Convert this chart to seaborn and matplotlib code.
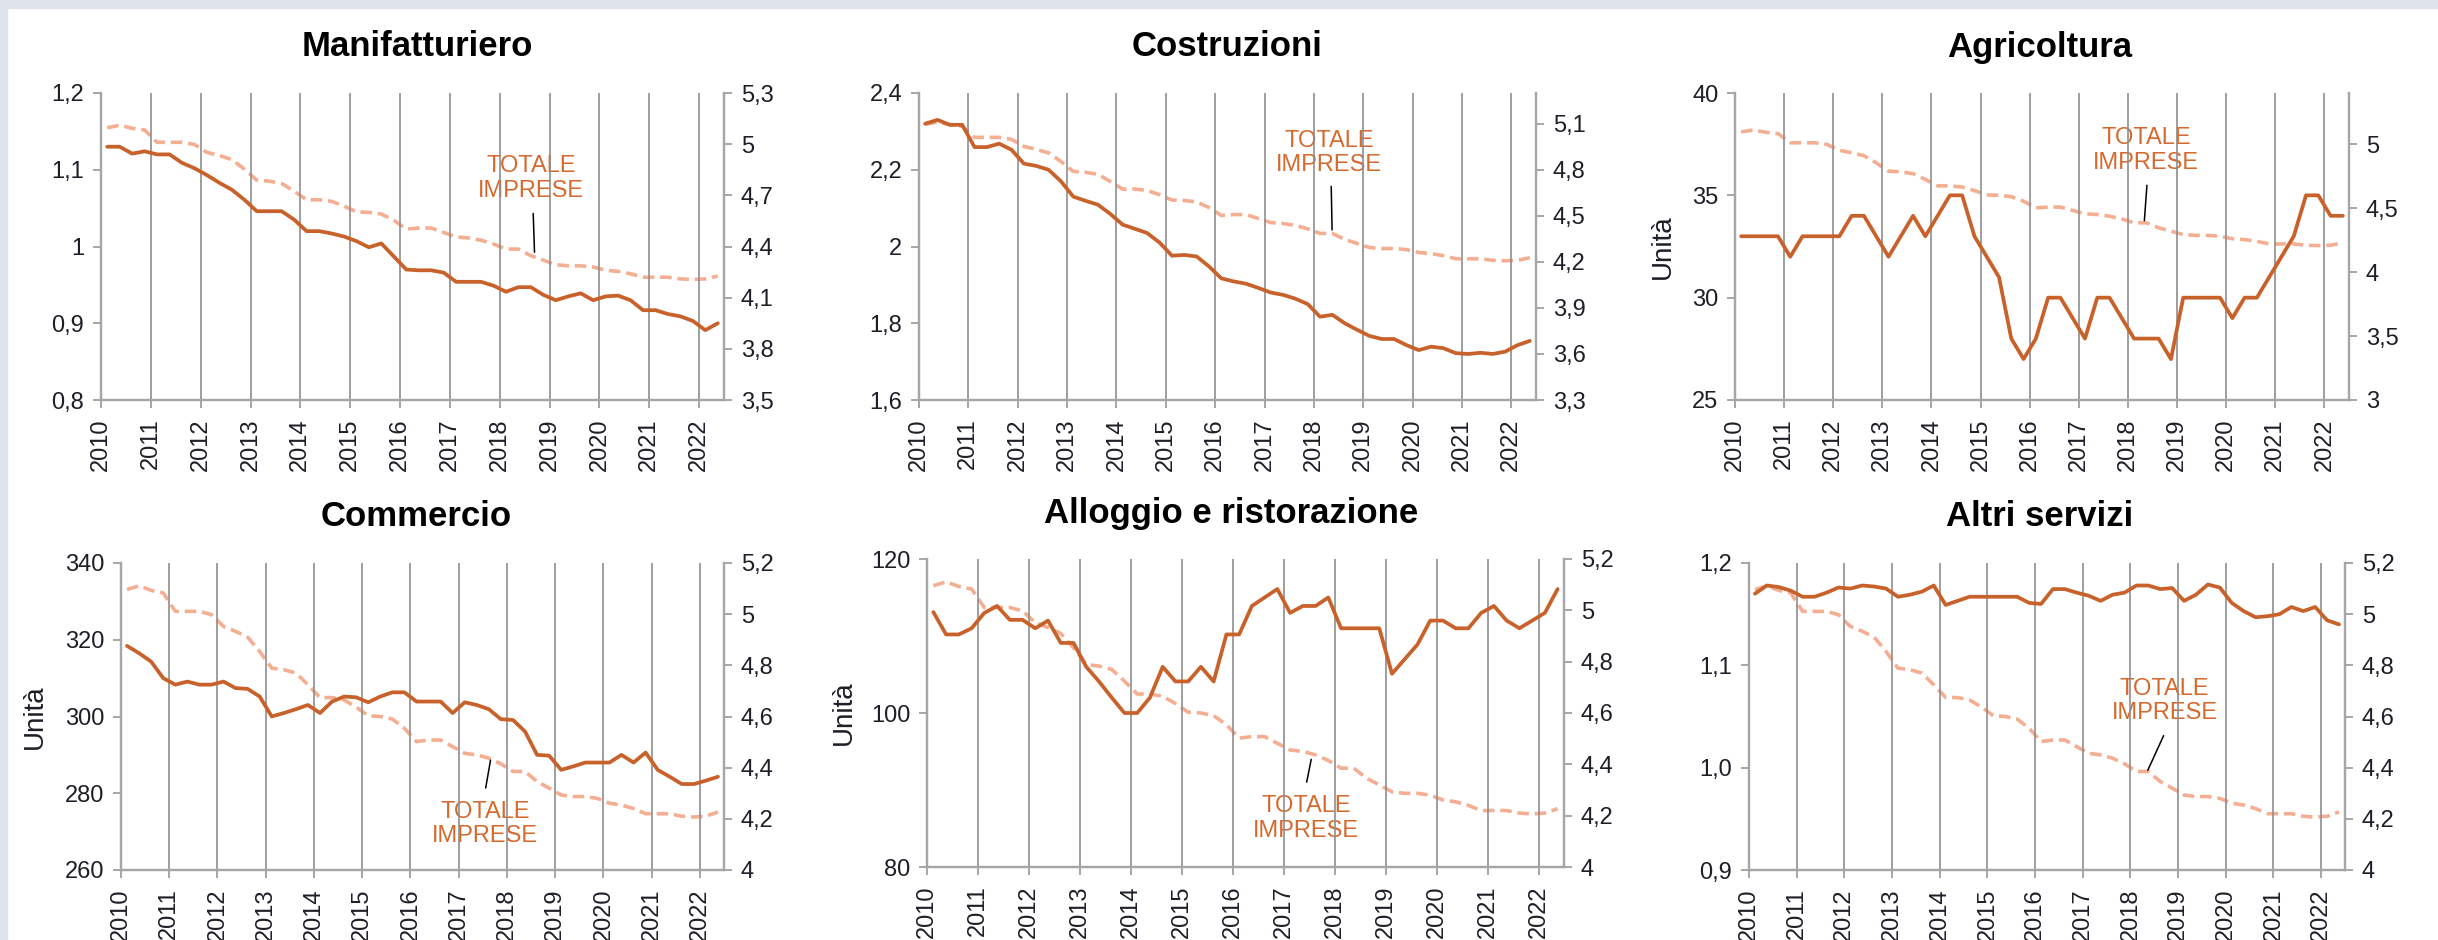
"""Imprese attive per settore (migliaia / unità) e totale imprese, 2010-2022."""

import matplotlib

matplotlib.use("Agg")
import matplotlib.pyplot as plt
import numpy as np
import pandas as pd
import seaborn as sns
from matplotlib.patches import Rectangle
from matplotlib.ticker import FuncFormatter

# quarterly observations, 2010Q1 .. 2022Q2
first_year = 2010
n_quarters = 50
year_ticks = list(range(2010, 2023))

totale_imprese = [5.096, 5.111, 5.093, 5.083, 5.011, 5.011, 5.011, 4.998, 4.952, 4.933,
                  4.91, 4.854, 4.789, 4.783, 4.77, 4.724, 4.674, 4.674, 4.665, 4.637,
                  4.603, 4.60, 4.59, 4.554, 4.502, 4.508, 4.508, 4.482, 4.456, 4.45,
                  4.437, 4.415, 4.385, 4.385, 4.346, 4.32, 4.293, 4.287, 4.287, 4.28,
                  4.261, 4.254, 4.24, 4.22, 4.22, 4.22, 4.21, 4.207, 4.21, 4.227]

manifatturiero = [1.13, 1.13, 1.121, 1.124, 1.12, 1.12, 1.109, 1.102, 1.093, 1.083,
                  1.074, 1.061, 1.046, 1.046, 1.046, 1.035, 1.02, 1.02, 1.017, 1.013,
                  1.007, 0.999, 1.004, 0.987, 0.970, 0.969, 0.969, 0.966, 0.954, 0.954,
                  0.954, 0.949, 0.941, 0.947, 0.947, 0.937, 0.930, 0.935, 0.939, 0.930,
                  0.935, 0.936, 0.930, 0.917, 0.917, 0.912, 0.909, 0.903, 0.891, 0.90]

costruzioni = [2.32, 2.33, 2.317, 2.317, 2.259, 2.259, 2.268, 2.252, 2.216, 2.21,
               2.20, 2.17, 2.13, 2.119, 2.109, 2.085, 2.057, 2.046, 2.035, 2.01,
               1.976, 1.978, 1.974, 1.948, 1.917, 1.909, 1.903, 1.892, 1.88, 1.874,
               1.864, 1.85, 1.817, 1.822, 1.80, 1.783, 1.767, 1.759, 1.759, 1.743,
               1.73, 1.739, 1.735, 1.722, 1.72, 1.723, 1.72, 1.726, 1.743, 1.754]

agricoltura = [33, 33, 33, 33, 32, 33, 33, 33, 33, 34,
               34, 33, 32, 33, 34, 33, 34, 35, 35, 33,
               32, 31, 28, 27, 28, 30, 30, 29, 28, 30,
               30, 29, 28, 28, 28, 27, 30, 30, 30, 30,
               29, 30, 30, 31, 32, 33, 35, 35, 34, 34]

commercio = [318.4, 316.5, 314.3, 310, 308.3, 309.1, 308.3, 308.3, 309.1, 307.4,
             307.2, 305.2, 300, 300.9, 301.9, 303, 300.9, 303.9, 305.2, 305,
             303.7, 305.2, 306.3, 306.3, 303.9, 303.9, 303.9, 300.9, 303.7, 303,
             301.9, 299.3, 299.1, 296.1, 290, 289.8, 286.1, 287, 288, 288,
             288, 290, 288, 290.6, 286.1, 284.3, 282.4, 282.4, 283.3, 284.3]

alloggio = [113.1, 110.2, 110.2, 111, 113, 113.9, 112.1, 112.1, 111, 112,
            109.1, 109.1, 106, 104.1, 102, 100, 100, 102, 106, 104.1,
            104.1, 106, 104.1, 110.2, 110.2, 113.9, 115, 116.1, 113, 113.9,
            113.9, 115, 111, 111, 111, 111, 105.1, 107, 108.9, 112,
            112, 111, 111, 113, 113.9, 112, 111, 112, 113, 116.1]

altri_servizi = [1.170, 1.178, 1.1765, 1.173, 1.167, 1.167, 1.171, 1.176, 1.175, 1.178,
                 1.177, 1.175, 1.167, 1.169, 1.172, 1.178, 1.159, 1.163, 1.167, 1.167,
                 1.167, 1.167, 1.167, 1.161, 1.16, 1.1745, 1.1745, 1.171, 1.168, 1.163,
                 1.169, 1.171, 1.178, 1.178, 1.1745, 1.1755, 1.163, 1.169, 1.179, 1.176,
                 1.161, 1.153, 1.147, 1.148, 1.15, 1.157, 1.153, 1.157, 1.144, 1.14]

SOLID = "#C8622A"
DASHED = "#F4AE92"
LABEL = "#D56A2E"
GRID = "#8E8E8E"
SPINE = "#A6A6A6"
TICK_TXT = "#1E1E28"

W, H = 2438, 940


def comma(fmt):
    return FuncFormatter(lambda v, _: (fmt % v).replace(".", ","))


# title, values, left lim/ticks/fmt, right lim/ticks, pixel box, ylabel, annotation
panels = [
    dict(title="Manifatturiero", values=manifatturiero,
         ylim=(0.8, 1.2), yticks=np.arange(0.8, 1.21, 0.1), yfmt="%g",
         rlim=(3.5, 5.3), rticks=np.arange(3.5, 5.31, 0.3),
         box=(101, 93, 724, 400), title_xy=(417, 47), ylabel=None,
         note=((2018.67, 4.61), (2018.70, 4.35), (2018.63, 4.80))),
    dict(title="Costruzioni", values=costruzioni,
         ylim=(1.6, 2.4), yticks=np.arange(1.6, 2.41, 0.2), yfmt="%g",
         rlim=(3.3, 5.3), rticks=np.arange(3.3, 5.11, 0.3),
         box=(919, 93, 1536, 400), title_xy=(1227, 47), ylabel=None,
         note=((2018.35, 4.71), (2018.37, 4.39), (2018.31, 4.91))),
    dict(title="Agricoltura", values=agricoltura,
         ylim=(25, 40), yticks=np.arange(25, 41, 5), yfmt="%g",
         rlim=(3.0, 5.4), rticks=np.arange(3.0, 5.01, 0.5),
         box=(1735, 93, 2349, 400), title_xy=(2040, 47), ylabel=-0.096,
         note=((2018.39, 4.70), (2018.33, 4.38), (2018.37, 4.95))),
    dict(title="Commercio", values=commercio,
         ylim=(260, 340), yticks=np.arange(260, 341, 20), yfmt="%g",
         rlim=(4.0, 5.2), rticks=np.arange(4.0, 5.21, 0.2),
         box=(121, 563, 724, 870), title_xy=(416, 517), ylabel=-0.121,
         note=((2017.55, 4.31), (2017.67, 4.44), (2017.55, 4.18))),
    dict(title="Alloggio e ristorazione", values=alloggio,
         ylim=(80, 120), yticks=np.arange(80, 121, 20), yfmt="%g",
         rlim=(4.0, 5.2), rticks=np.arange(4.0, 5.21, 0.2),
         box=(927, 559, 1564, 867), title_xy=(1231, 513), ylabel=-0.11,
         note=((2017.44, 4.32), (2017.55, 4.43), (2017.44, 4.19))),
    dict(title="Altri servizi", values=altri_servizi,
         ylim=(0.9, 1.2), yticks=np.arange(0.9, 1.21, 0.1), yfmt="%.1f",
         rlim=(4.0, 5.2), rticks=np.arange(4.0, 5.21, 0.2),
         box=(1749, 563, 2345, 870), title_xy=(2040, 517), ylabel=None,
         note=((2018.72, 4.535), (2018.34, 4.38), (2018.72, 4.66))),
]

sns.set_style("white")
plt.rcParams["font.family"] = ["Liberation Sans", "DejaVu Sans"]

fig = plt.figure(figsize=(W / 100, H / 100), dpi=100)
fig.patch.set_facecolor("white")
fig.patches.append(Rectangle((0, 1 - 8 / H), 1, 8 / H, transform=fig.transFigure,
                             color="#DEE3EC", zorder=0))
fig.patches.append(Rectangle((0, 0), 7 / W, 1, transform=fig.transFigure,
                             color="#DEE3EC", zorder=0))

quarter_x = first_year + 0.125 + 0.25 * np.arange(n_quarters)

for p in panels:
    x0, y0, x1, y1 = p["box"]
    ax = fig.add_axes([x0 / W, 1 - y1 / H, (x1 - x0) / W, (y1 - y0) / H])
    ax2 = ax.twinx()
    ax.set_zorder(ax2.get_zorder() + 1)
    ax.patch.set_visible(False)

    df = pd.DataFrame({"anno": quarter_x, "settore": p["values"],
                       "totale": totale_imprese})
    sns.lineplot(data=df, x="anno", y="totale", ax=ax2, color=DASHED,
                 linewidth=2.6, dashes=False, linestyle=(0, (3.2, 1.6)))
    sns.lineplot(data=df, x="anno", y="settore", ax=ax, color=SOLID, linewidth=2.7)

    ax.set_xlim(2010, 2022.5)
    ax.set_ylim(*p["ylim"])
    ax2.set_ylim(*p["rlim"])
    ax.set_xticks(year_ticks)
    ax.set_xticklabels([str(y) for y in year_ticks], rotation=90)
    ax.set_yticks(p["yticks"])
    ax2.set_yticks(p["rticks"])
    ax.yaxis.set_major_formatter(comma(p["yfmt"]))
    ax2.yaxis.set_major_formatter(comma("%g"))
    ax.grid(axis="x", color=GRID, linewidth=1.2)
    ax.grid(axis="y", visible=False)
    ax2.grid(False)
    ax.set_axisbelow(True)

    for a in (ax, ax2):
        a.spines["top"].set_visible(False)
        for s in ("left", "right", "bottom"):
            a.spines[s].set_color(SPINE)
            a.spines[s].set_linewidth(1.6)
        a.tick_params(colors=SPINE, labelcolor=TICK_TXT, labelsize=17,
                      length=6, width=1.4, direction="out", pad=6)
    ax.tick_params(axis="x", pad=7)
    ax.tick_params(left=True, bottom=True)
    ax2.tick_params(right=True)
    ax.set_xlabel("")
    ax2.set_xlabel("")
    ax2.set_ylabel("")
    if p["ylabel"] is not None:
        ax.set_ylabel("Unità", fontsize=20, color=TICK_TXT)
        ax.yaxis.set_label_coords(p["ylabel"], 0.5)
    else:
        ax.set_ylabel("")

    start, tip, text_at = p["note"]
    ax2.annotate("", xy=tip, xytext=start,
                 arrowprops=dict(arrowstyle="-", color="black", lw=1.1))
    ax2.text(*text_at, "TOTALE\nIMPRESE", color=LABEL, fontsize=17,
             ha="center", va="center", linespacing=1.15)

    fig.text(p["title_xy"][0] / W, 1 - p["title_xy"][1] / H, p["title"],
             fontsize=25, fontweight="bold", ha="center", va="center",
             color="black")

fig.savefig("out.png", dpi=100)
plt.close(fig)
